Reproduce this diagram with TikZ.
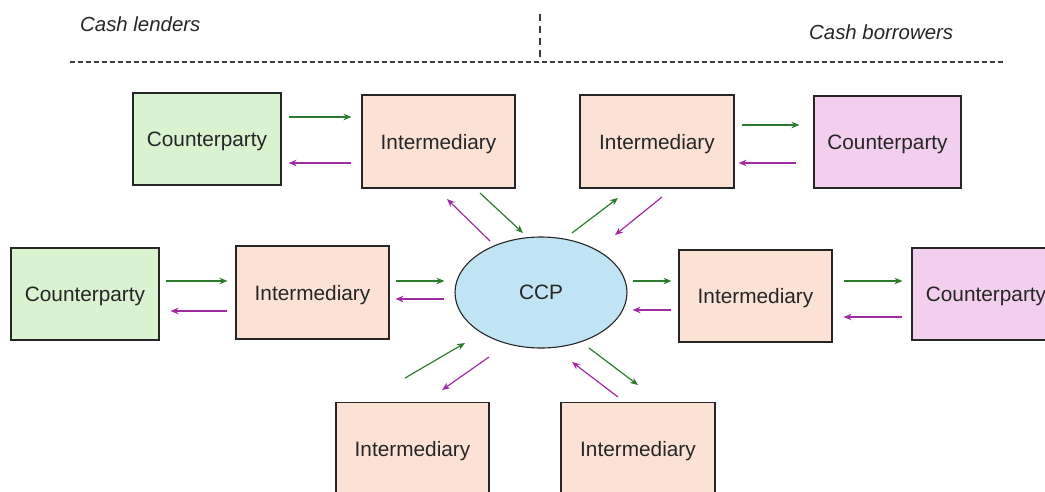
\documentclass[tikz,border=0pt]{standalone}
\usepackage{fontspec}
\setmainfont{Liberation Sans}
\usetikzlibrary{arrows.meta,calc,shapes.geometric}
\definecolor{gfill}{HTML}{D9F2D0}
\definecolor{pfill}{HTML}{FBE2D5}
\definecolor{mfill}{HTML}{F2CFEE}
\definecolor{bfill}{HTML}{C1E4F5}
\definecolor{garr}{HTML}{2E7A2E}
\definecolor{marr}{HTML}{A02BA0}
\definecolor{bord}{HTML}{262626}
\begin{document}
\begin{tikzpicture}[x=1pt,y=-1pt,
  box/.style={draw=bord,line width=1.1pt,minimum height=92pt,inner sep=0pt,text depth=0pt,
    font=\fontsize{20.8}{24}\selectfont,text=bord},
  cpg/.style={box,fill=gfill,minimum width=148pt},
  cpm/.style={box,fill=mfill,minimum width=148pt},
  inter/.style={box,fill=pfill,minimum width=153pt,minimum height=93pt},
  ccpnode/.style={ellipse,draw=bord,line width=1.1pt,fill=bfill,minimum width=172pt,
    minimum height=111pt,inner sep=0pt,font=\fontsize{20.8}{24}\selectfont,text=bord},
  ga/.style={draw=garr,line width=1.2pt,-{Stealth[length=8pt,width=6.5pt]}},
  ma/.style={draw=marr,line width=1.2pt,-{Stealth[length=8pt,width=6.5pt]}},
  sep/.style={draw=bord!90,line width=1.4pt,dash pattern=on 5pt off 3pt},
  lab/.style={font=\fontsize{20.4}{24}\selectfont\itshape,text=bord,inner sep=0pt}
]
\useasboundingbox (0,0) rectangle (1045,491);
\clip (0,0) rectangle (1045,491);

% header
\node[lab,anchor=west] (lend) at (80,24) {Cash lenders};
\node[lab,anchor=west] (borr) at (809,32) {Cash borrowers};
\coordinate (hl1) at (70,62);
\coordinate (hm) at (540,62);
\coordinate (hr1) at (1005,62);
\coordinate (vt) at (540,14);
\draw[sep] (hl1) -- (hm) -- (hr1);
\draw[sep,dash pattern=on 7pt off 5pt] (vt) -- (hm);

% nodes
\node[cpg] (cpTL) at (207,139) {Counterparty};
\node[inter] (iTL) at (438.5,141.5) {Intermediary};
\node[inter,minimum width=154pt] (iTR) at (657,141.5) {Intermediary};
\node[cpm,minimum width=147pt] (cpTR) at (887.5,142) {Counterparty};
\node[cpg] (cpL) at (85,294) {Counterparty};
\node[inter] (iL) at (312.5,292.5) {Intermediary};
\node[ccpnode] (ccp) at (541,292.5) {CCP};
\node[inter,minimum height=92pt] (iR) at (755.5,296) {Intermediary};
\node[cpm] (cpR) at (986,294) {Counterparty};
\node[inter] (iBL) at (412.5,449) {Intermediary};
\node[inter,minimum width=154pt] (iBR) at (638,449) {Intermediary};

% horizontal connectors
\draw[ga,shorten <=7pt,shorten >=10pt] (cpTL.east|-0,117) -- (iTL.west|-0,117);
\draw[ma,shorten <=10pt,shorten >=7pt] (iTL.west|-0,163) -- (cpTL.east|-0,163);
\draw[ga,shorten <=7pt,shorten >=14pt] (iTR.east|-0,125) -- (cpTR.west|-0,125);
\draw[ma,shorten <=17pt,shorten >=4pt] (cpTR.west|-0,163) -- (iTR.east|-0,163);
\draw[ga,shorten <=6pt,shorten >=8pt] (cpL.east|-0,281) -- (iL.west|-0,281);
\draw[ma,shorten <=8pt,shorten >=11pt] (iL.west|-0,311) -- (cpL.east|-0,311);
\draw[ga,shorten <=6pt,shorten >=10pt] (iL.east|-0,281) -- (ccp.west|-0,281);
\draw[ma,shorten <=10pt,shorten >=6pt] (ccp.west|-0,299) -- (iL.east|-0,299);
\draw[ga,shorten <=5pt,shorten >=7pt] (ccp.east|-0,281) -- (iR.west|-0,281);
\draw[ma,shorten <=7pt,shorten >=5pt] (iR.west|-0,310) -- (ccp.east|-0,310);
\draw[ga,shorten <=11pt,shorten >=9pt] (iR.east|-0,281) -- (cpR.west|-0,281);
\draw[ma,shorten <=9pt,shorten >=11pt] (cpR.west|-0,317) -- (iR.east|-0,317);

% diagonal connectors
\coordinate (d1a) at (490,241); \coordinate (d1b) at (447,199);
\coordinate (d2a) at (480,193); \coordinate (d2b) at (523,233);
\coordinate (d3a) at (572,233); \coordinate (d3b) at (618,198);
\coordinate (d4a) at (662,197); \coordinate (d4b) at (615,235);
\coordinate (d5a) at (405,378); \coordinate (d5b) at (465,343);
\coordinate (d6a) at (489,357); \coordinate (d6b) at (442,390);
\coordinate (d7a) at (618,397); \coordinate (d7b) at (572,362);
\coordinate (d8a) at (589,348); \coordinate (d8b) at (638,385);
\draw[ma] (d1a) -- (d1b);
\draw[ga] (d2a) -- (d2b);
\draw[ga] (d3a) -- (d3b);
\draw[ma] (d4a) -- (d4b);
\draw[ga] (d5a) -- (d5b);
\draw[ma] (d6a) -- (d6b);
\draw[ma] (d7a) -- (d7b);
\draw[ga] (d8a) -- (d8b);
\end{tikzpicture}
\end{document}
